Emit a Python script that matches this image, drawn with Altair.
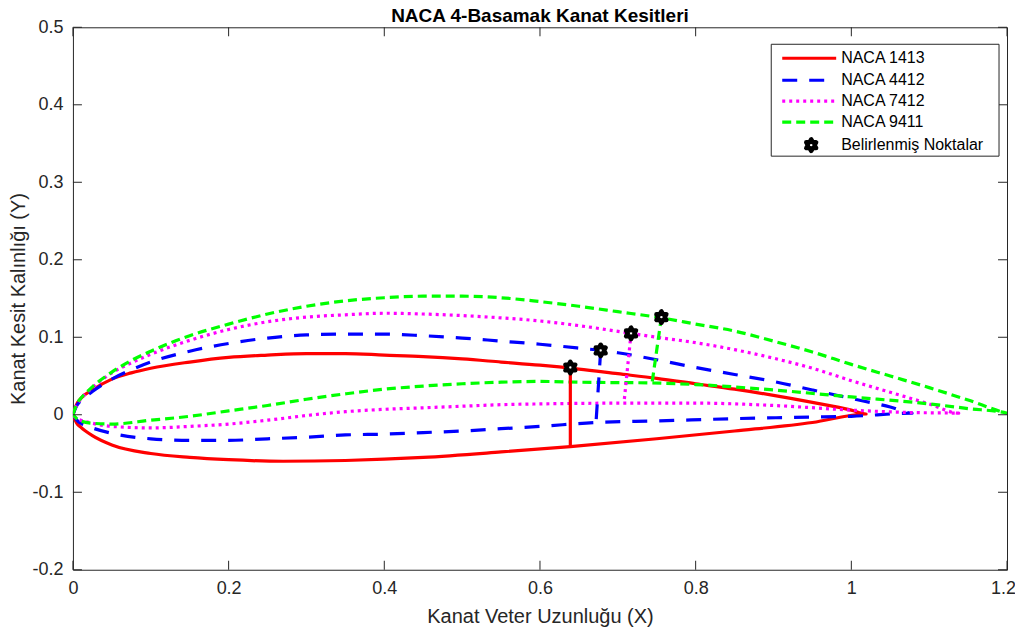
import altair as alt
import pandas as pd

# ---------------- data ----------------
title_text = "NACA 4-Basamak Kanat Kesitleri"
names = ["NACA 1413", "NACA 4412", "NACA 7412", "NACA 9411"]
marker_label = "Belirlenmiş Noktalar"

# NACA 1413 (red, solid)
r_up_x = [0, 0.005, 0.01, 0.025, 0.05, 0.075, 0.1, 0.15, 0.2, 0.25, 0.3, 0.35, 0.4, 0.45, 0.5,
          0.55, 0.6, 0.65, 0.7, 0.75, 0.8, 0.85, 0.9, 0.95, 1.0, 1.019]
r_up_y = [0, 0.014, 0.021, 0.032, 0.046, 0.054, 0.06, 0.068, 0.074, 0.077, 0.079, 0.079, 0.077,
          0.075, 0.072, 0.068, 0.064, 0.059, 0.053, 0.047, 0.04, 0.033, 0.025, 0.016, 0.006, 0.001]
r_lo_x = [0, 0.005, 0.01, 0.025, 0.05, 0.1, 0.15, 0.2, 0.27, 0.35, 0.45, 0.55, 0.639, 0.75, 0.85,
          0.95, 1.019]
r_lo_y = [0, -0.011, -0.016, -0.027, -0.039, -0.05, -0.055, -0.058, -0.06, -0.059, -0.055, -0.048,
          -0.041, -0.031, -0.021, -0.01, 0.001]

# NACA 4412 (blue, dashed)
b_up_x = [0, 0.005, 0.01, 0.025, 0.05, 0.075, 0.1, 0.15, 0.2, 0.25, 0.3, 0.35, 0.4, 0.45, 0.5,
          0.55, 0.6, 0.65, 0.678, 0.7, 0.75, 0.8, 0.85, 0.9, 0.95, 1.0, 1.05, 1.078]
b_up_y = [0, 0.012, 0.018, 0.03, 0.046, 0.058, 0.068, 0.082, 0.092, 0.099, 0.103, 0.104, 0.104,
          0.102, 0.099, 0.095, 0.091, 0.086, 0.083, 0.08, 0.071, 0.061, 0.052, 0.043, 0.032, 0.021,
          0.01, 0.002]
b_lo_x = [0, 0.005, 0.01, 0.025, 0.05, 0.1, 0.15, 0.2, 0.25, 0.3, 0.35, 0.4, 0.45, 0.5, 0.55, 0.6,
          0.672, 0.75, 0.85, 0.95, 1.0, 1.078]
b_lo_y = [0, -0.007, -0.011, -0.017, -0.024, -0.031, -0.033, -0.033, -0.031, -0.029, -0.026,
          -0.025, -0.023, -0.021, -0.018, -0.015, -0.01, -0.008, -0.005, -0.003, -0.002, 0.002]

# NACA 7412 (magenta, dotted)
m_up_x = [0, 0.005, 0.01, 0.025, 0.05, 0.075, 0.1, 0.15, 0.2, 0.25, 0.3, 0.35, 0.4, 0.45, 0.5,
          0.55, 0.6, 0.65, 0.717, 0.75, 0.8, 0.85, 0.9, 0.95, 1.0, 1.05, 1.1, 1.138]
m_up_y = [0, 0.013, 0.02, 0.035, 0.054, 0.067, 0.078, 0.096, 0.11, 0.12, 0.126, 0.129, 0.131,
          0.13, 0.128, 0.125, 0.121, 0.115, 0.105, 0.1, 0.093, 0.084, 0.073, 0.06, 0.044, 0.029,
          0.014, 0.002]
m_lo_x = [0, 0.005, 0.01, 0.025, 0.05, 0.1, 0.15, 0.2, 0.25, 0.3, 0.35, 0.4, 0.45, 0.5, 0.55, 0.6,
          0.708, 0.8, 0.9, 1.0, 1.07, 1.138]
m_lo_y = [0, -0.005, -0.007, -0.011, -0.015, -0.017, -0.015, -0.012, -0.007, -0.001, 0.004, 0.007,
          0.009, 0.011, 0.013, 0.014, 0.015, 0.015, 0.012, 0.006, 0.003, 0.002]

# NACA 9411 (green, dash-dot)
g_up_x = [0, 0.005, 0.01, 0.025, 0.05, 0.075, 0.1, 0.15, 0.2, 0.25, 0.3, 0.35, 0.4, 0.45, 0.5,
          0.55, 0.6, 0.65, 0.7, 0.756, 0.8, 0.85, 0.9, 0.95, 1.0, 1.05, 1.1, 1.15, 1.2]
g_up_y = [0, 0.014, 0.021, 0.036, 0.055, 0.07, 0.082, 0.102, 0.117, 0.13, 0.14, 0.147, 0.151,
          0.153, 0.153, 0.151, 0.146, 0.14, 0.133, 0.125, 0.117, 0.108, 0.095, 0.081, 0.065, 0.05,
          0.035, 0.019, 0.002]
g_lo_x = [0, 0.005, 0.01, 0.025, 0.05, 0.1, 0.15, 0.2, 0.25, 0.3, 0.35, 0.4, 0.45, 0.5, 0.55, 0.6,
          0.65, 0.744, 0.8, 0.9, 1.0, 1.1, 1.15, 1.2]
g_lo_y = [0, -0.005, -0.008, -0.011, -0.012, -0.007, -0.002, 0.005, 0.012, 0.02, 0.027, 0.033,
          0.037, 0.04, 0.042, 0.043, 0.042, 0.041, 0.039, 0.032, 0.023, 0.014, 0.008, 0.002]

# vertical thickness segments (top point = marked point)
seg_top_x = [0.639, 0.678, 0.717, 0.756]
seg_top_y = [0.061, 0.083, 0.105, 0.126]
seg_bot_x = [0.639, 0.672, 0.708, 0.744]
seg_bot_y = [-0.041, -0.01, 0.016, 0.041]

x_ticks = [0, 0.2, 0.4, 0.6, 0.8, 1, 1.2]
y_ticks = [-0.2, -0.1, 0, 0.1, 0.2, 0.3, 0.4, 0.5]

# ---------------- styling ----------------
colors = ["#ff0000", "#0000ff", "#ff00ff", "#00ff00"]
dashes = [None, [15, 12], [3, 4], [9, 5]]
FONT = "Liberation Sans"
INK = "#262626"
W, H = 935, 543
TICK = 9
HEX = ("M0,-1L-0.289,-0.5L-0.866,-0.5L-0.577,0L-0.866,0.5L-0.289,0.5L0,1L0.289,0.5"
       "L0.866,0.5L0.577,0L0.866,-0.5L0.289,-0.5Z")

xs = alt.Scale(domain=[0, 1.2], nice=False, zero=False)
ys = alt.Scale(domain=[-0.2, 0.5], nice=False, zero=False)
axis_style = dict(domain=False, ticks=False, grid=False, labelFlush=False,
                  labelFont=FONT, labelFontSize=18, labelColor=INK,
                  titleFont=FONT, titleFontSize=20, titleFontWeight="normal", titleColor=INK)
x_axis = alt.Axis(values=x_ticks, labelExpr="'' + datum.value", title="Kanat Veter Uzunluğu (X)",
                  labelPadding=10, titlePadding=9,
                  labelOffset={"condition": {"test": "datum.value >= 1.19", "value": -4},
                               "value": 0},
                  **axis_style)
y_axis = alt.Axis(values=y_ticks, labelExpr="'' + datum.value", title="Kanat Kesit Kalınlığı (Y)",
                  labelPadding=10, titlePadding=3, **axis_style)


def X():
    return alt.X("x:Q", scale=xs, axis=x_axis)


def Y():
    return alt.Y("y:Q", scale=ys, axis=y_axis)


def profile(ux, uy, lx, ly):
    rows = [{"x": a, "y": b, "o": i} for i, (a, b) in enumerate(zip(ux, uy))]
    n = len(rows)
    rows += [{"x": a, "y": b, "o": n + j}
             for j, (a, b) in enumerate(zip(list(reversed(lx)), list(reversed(ly))))]
    return pd.DataFrame(rows)


profiles = [
    profile(r_up_x, r_up_y, r_lo_x, r_lo_y),
    profile(b_up_x, b_up_y, b_lo_x, b_lo_y),
    profile(m_up_x, m_up_y, m_lo_x, m_lo_y),
    profile(g_up_x, g_up_y, g_lo_x, g_lo_y),
]


def line_kw(i):
    kw = dict(color=colors[i], strokeWidth=3.2, strokeJoin="round")
    if dashes[i] is not None:
        kw["strokeDash"] = dashes[i]
        kw["strokeCap"] = "butt"
    return kw


layers = []
for i, df in enumerate(profiles):
    layers.append(alt.Chart(df).mark_line(clip=True, interpolate="monotone", **line_kw(i)).encode(
        x=X(), y=Y(), order="o:Q"))

# thickness segments
for i in range(4):
    sdf = pd.DataFrame({"x": [seg_top_x[i], seg_bot_x[i]], "y": [seg_top_y[i], seg_bot_y[i]],
                        "o": [0, 1]})
    layers.append(alt.Chart(sdf).mark_line(clip=True, **line_kw(i)).encode(
        x=X(), y=Y(), order="o:Q"))

# marked points
marker_kw = dict(shape=HEX, size=130, filled=True, fill="white", stroke="black",
                 strokeWidth=4.5, opacity=1, strokeJoin="round")
mdf = pd.DataFrame({"x": seg_top_x, "y": seg_top_y})
layers.append(alt.Chart(mdf).mark_point(**marker_kw).encode(x=X(), y=Y()))

# inward ticks on all four sides
xt = pd.DataFrame({"x": x_ticks})
yt = pd.DataFrame({"y": y_ticks})
tick_kw = dict(color=INK, strokeWidth=1)
layers += [
    alt.Chart(xt).mark_rule(**tick_kw).encode(x=X(), y=alt.value(H), y2=alt.value(H - TICK)),
    alt.Chart(xt).mark_rule(**tick_kw).encode(x=X(), y=alt.value(0), y2=alt.value(TICK)),
    alt.Chart(yt).mark_rule(**tick_kw).encode(y=Y(), x=alt.value(0), x2=alt.value(TICK)),
    alt.Chart(yt).mark_rule(**tick_kw).encode(y=Y(), x=alt.value(W), x2=alt.value(W - TICK)),
]

# legend (drawn inside the plot, top-right)
one = pd.DataFrame({"a": [0]})
LX0, LX1, LY0, LY1 = 699, 927, 17, 129
rows_y = [31, 53, 74, 95, 118]
layers.append(alt.Chart(one).mark_rect(fill="white", stroke=INK, strokeWidth=1).encode(
    x=alt.value(LX0), x2=alt.value(LX1), y=alt.value(LY0), y2=alt.value(LY1)))
for i in range(4):
    layers.append(alt.Chart(one).mark_rule(**line_kw(i)).encode(
        x=alt.value(710), x2=alt.value(764), y=alt.value(rows_y[i])))
legend_labels = names + [marker_label]
for i, lab in enumerate(legend_labels):
    layers.append(alt.Chart(one).mark_text(text=lab, align="left", baseline="middle",
                                           font=FONT, fontSize=16, color="black").encode(
        x=alt.value(769), y=alt.value(rows_y[i])))
layers.append(alt.Chart(one).mark_point(**marker_kw).encode(
    x=alt.value(739), y=alt.value(rows_y[4])))

# chart title (drawn as text just above the plot frame)
layers.append(alt.Chart(one).mark_text(text=title_text, align="center", baseline="alphabetic",
                                       font=FONT, fontSize=19, fontWeight="bold",
                                       color="black").encode(
    x=alt.value(W / 2), y=alt.value(-5)))

chart = alt.layer(*layers).properties(
    width=W, height=H,
    padding={"left": 65, "top": 19, "right": 8, "bottom": 58},
    autosize=alt.AutoSizeParams(type="none"),
    background="white",
).configure_view(stroke=INK, strokeWidth=1)

chart.save("out.html", embed_options={"renderer": "svg", "actions": False})
